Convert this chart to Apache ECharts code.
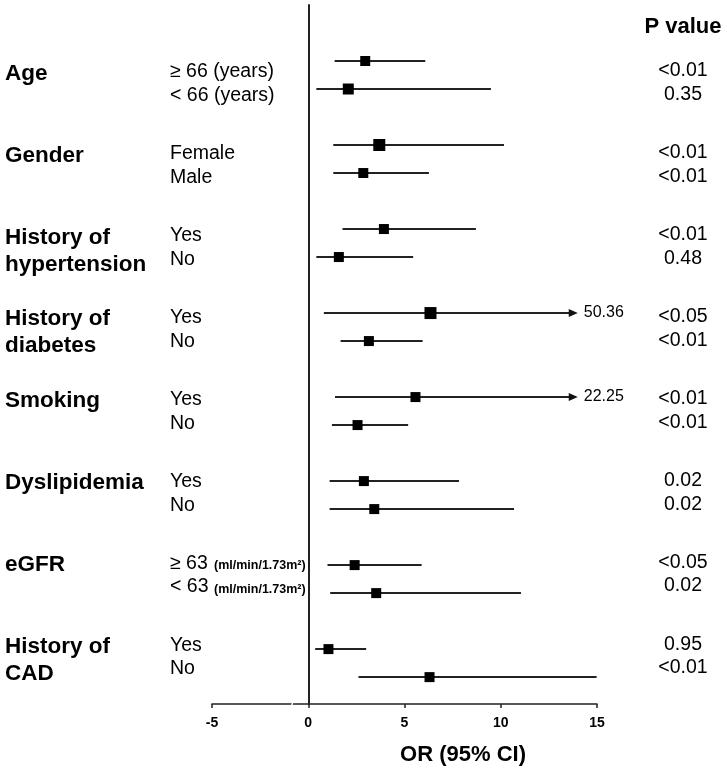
<!DOCTYPE html>
<html>
<head>
<meta charset="utf-8">
<script src="https://cdn.jsdelivr.net/npm/echarts@6/dist/echarts.min.js"></script>
<style>
html,body{margin:0;padding:0;background:#fff;}
#chart{width:727px;height:771px;}
</style>
</head>
<body>
<div id="chart"></div>
<script>
// ---------------- data ----------------
const groups = ['Age', 'Gender', 'History of\nhypertension', 'History of\ndiabetes', 'Smoking', 'Dyslipidemia', 'eGFR', 'History of\nCAD'];
const subLabels = [
  ['≥ 66 (years)', '< 66 (years)'],
  ['Female', 'Male'],
  ['Yes', 'No'],
  ['Yes', 'No'],
  ['Yes', 'No'],
  ['Yes', 'No'],
  ['≥ 63', '< 63'],
  ['Yes', 'No']
];
const subUnits = [null, null, null, null, null, null, '(ml/min/1.73m²)', null];
const orValues = [2.96, 2.08, 3.69, 2.86, 3.93, 1.59, 6.35, 3.15, 5.57, 2.56, 2.89, 3.43, 2.41, 3.53, 1.05, 6.30];
const ciLower  = [1.37, 0.42, 1.30, 1.30, 1.78, 0.42, 0.81, 1.68, 1.39, 1.23, 1.11, 1.11, 1.00, 1.14, 0.36, 2.61];
const ciUpper  = [6.08, 9.49, 10.17, 6.27, 8.71, 5.45, 50.36, 5.94, 22.25, 5.19, 7.83, 10.69, 5.89, 11.05, 3.01, 14.98];
const pValues  = ['<0.01', '0.35', '<0.01', '<0.01', '<0.01', '0.48', '<0.05', '<0.01', '<0.01', '<0.01', '0.02', '0.02', '<0.05', '0.02', '0.95', '<0.01'];
const xTicks = [-5, 0, 5, 10, 15];
const axisMaxValue = 15;  // CIs beyond the axis are drawn as arrows with their value printed
const displayCap = 14;
const markerSizes = [10, 11, 12, 10, 10, 10, 12, 10, 10, 10, 10, 10, 10, 10, 10, 10];

// ---------------- layout ----------------
const FONT = "'Liberation Sans', Arial, Helvetica, sans-serif";
const rowPos = i => Math.floor(i / 2) * 3 + (i % 2);
const textY = (g, r) => 72 + g * 81.9 + r * 23.7;

const chart = echarts.init(document.getElementById('chart'), null, {renderer: 'canvas'});

const pointData = orValues.map((v, i) => ({value: [v, rowPos(i)], symbolSize: markerSizes[i]}));
const ciData = orValues.map((v, i) => {
  const trunc = ciUpper[i] > axisMaxValue;
  return [ciLower[i], trunc ? displayCap : ciUpper[i], rowPos(i), trunc ? 1 : 0, ciUpper[i]];
});

const graphics = [];
groups.forEach((g, gi) => {
  const lines = g.split('\n');
  lines.forEach((ln, li) => {
    graphics.push({type: 'text', x: 5, y: textY(gi, 0) + 1.5 + li * 27,
      style: {text: ln, font: 'bold 22.5px ' + FONT, fill: '#000', textAlign: 'left', textVerticalAlign: 'middle'}});
  });
  subLabels[gi].forEach((s, r) => {
    graphics.push({type: 'text', x: 170, y: textY(gi, r),
      style: {text: s, font: '19.5px ' + FONT, fill: '#000', textAlign: 'left', textVerticalAlign: 'middle'}});
    if (subUnits[gi]) {
      graphics.push({type: 'text', x: 214, y: textY(gi, r) + 2.5,
        style: {text: subUnits[gi], font: 'bold 12.5px ' + FONT, fill: '#000', textAlign: 'left', textVerticalAlign: 'middle'}});
    }
  });
});
pValues.forEach((p, i) => {
  const gi = Math.floor(i / 2), r = i % 2;
  graphics.push({type: 'text', x: 683, y: textY(gi, r) - 1,
    style: {text: p, font: '19.5px ' + FONT, fill: '#000', textAlign: 'center', textVerticalAlign: 'middle'}});
});
graphics.push({type: 'text', x: 683, y: 27,
  style: {text: 'P value', font: 'bold 22px ' + FONT, fill: '#000', textAlign: 'center', textVerticalAlign: 'middle'}});
graphics.push({type: 'text', x: 463, y: 755,
  style: {text: 'OR (95% CI)', font: 'bold 22px ' + FONT, fill: '#000', textAlign: 'center', textVerticalAlign: 'middle'}});

const option = {
  backgroundColor: '#fff',
  animation: false,
  grid: {left: 212, right: 130, top: 5, bottom: 67, containLabel: false},
  xAxis: {
    type: 'value', min: -5, max: 15, interval: 5,
    axisLine: {show: true, onZero: false, lineStyle: {color: '#222', width: 1.5}},
    axisTick: {show: true, length: 4, lineStyle: {color: '#222', width: 1.5}},
    axisLabel: {show: true, margin: 12, color: '#000', fontFamily: FONT, fontWeight: 'bold', fontSize: 14,
      formatter: v => xTicks.includes(v) ? String(v) : ''},
    splitLine: {show: false}
  },
  yAxis: {
    type: 'value', min: -2, max: 22.96, inverse: true,
    axisLine: {show: true, onZero: true, lineStyle: {color: '#222', width: 2}},
    axisTick: {show: false}, axisLabel: {show: false}, splitLine: {show: false}
  },
  graphic: graphics,
  series: [
    {
      type: 'custom',
      clip: false,
      data: ciData,
      encode: {x: [0, 1], y: 2},
      renderItem: function (params, api) {
        const lo = api.coord([api.value(0), api.value(2)]);
        const hi = api.coord([api.value(1), api.value(2)]);
        const trunc = api.value(3) === 1;
        const children = [];
        const endX = trunc ? hi[0] - 8 : hi[0];
        children.push({type: 'line', shape: {x1: lo[0], y1: lo[1], x2: endX, y2: hi[1]},
          style: {stroke: '#222', lineWidth: 2}});
        if (trunc) {
          children.push({type: 'polygon', shape: {points: [[hi[0] - 9, hi[1] - 4], [hi[0], hi[1]], [hi[0] - 9, hi[1] + 4]]},
            style: {fill: '#111'}});
          children.push({type: 'text', x: hi[0] + 6, y: hi[1],
            style: {text: api.value(4).toFixed(2), font: '16px ' + FONT, fill: '#000', textAlign: 'left', textVerticalAlign: 'middle'}});
        }
        return {type: 'group', children: children};
      },
      z: 2
    },
    {
      type: 'scatter',
      symbol: 'rect',
      data: pointData,
      itemStyle: {color: '#000', opacity: 1},
      z: 3
    }
  ]
};
chart.setOption(option);

// tiny axis-break mark on the x axis near zero
const b = chart.convertToPixel({gridIndex: 0}, [-0.85, 22.96]);
chart.setOption({graphic: graphics.concat([{type: 'polygon', z: 100,
  shape: {points: [[b[0] - 1, b[1] + 1.5], [b[0], b[1] - 1.5], [b[0] + 1.5, b[1] - 1.5], [b[0] + 0.5, b[1] + 1.5]]},
  style: {fill: '#fff'}}])});
</script>
</body>
</html>
